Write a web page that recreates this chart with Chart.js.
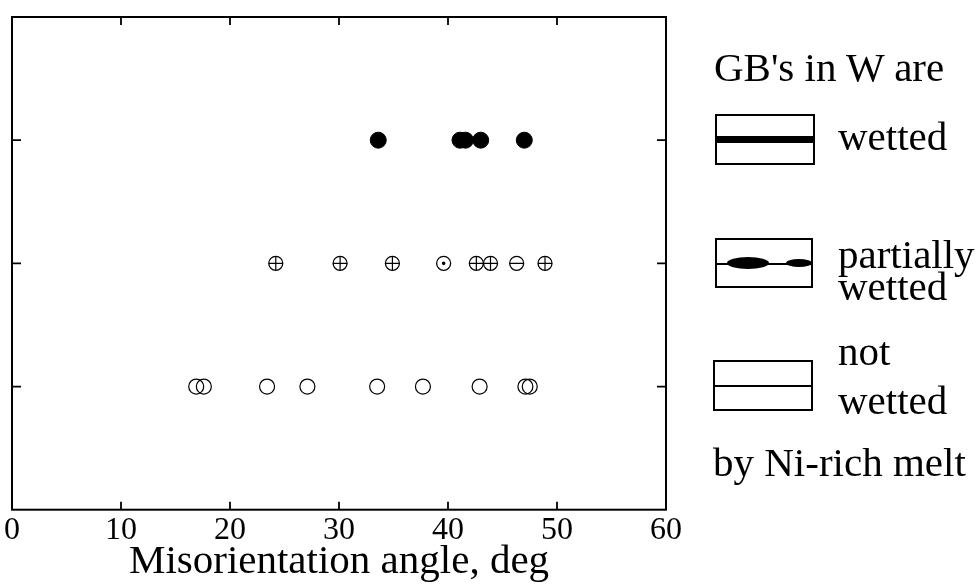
<!DOCTYPE html>
<html>
<head>
<meta charset="utf-8">
<script src="https://cdn.jsdelivr.net/npm/chart.js@4/dist/chart.umd.min.js"></script>
<style>
  html, body { margin: 0; padding: 0; background: #fff; }
  #wrap { position: relative; width: 980px; height: 586px; }
  #c { position: absolute; left: 0; top: 0; }
  .t { position: absolute; font-family: 'Liberation Serif', 'Times New Roman', serif; font-size: 41px; line-height: 41px; color: #000; white-space: nowrap; }
  .box { position: absolute; border: 2px solid #000; box-sizing: border-box; background: #fff; }
  .ln { position: absolute; left: 0; right: 0; background: #000; }
  .el { position: absolute; background: #000; border-radius: 50%; }
</style>
</head>
<body>
<div id="wrap">
  <canvas id="c" width="980" height="586"></canvas>
  <div class="t" style="left:714px; top:47px;">GB's in W are</div>
  <div class="box" style="left:715px; top:114px; width:100px; height:51px;">
    <div class="ln" style="top:20px; height:7px;"></div>
  </div>
  <div class="t" style="left:838px; top:116px;">wetted</div>
  <div class="box" style="left:715px; top:238px; width:98px; height:50px;">
    <div class="ln" style="top:23px; height:1.5px;"></div>
    <div class="el" style="left:10px; top:17px; width:42px; height:12px;"></div>
    <div class="el" style="left:69px; top:19px; width:26px; height:8px;"></div>
  </div>
  <div class="t" style="left:838px; top:234px;">partially</div>
  <div class="t" style="left:838px; top:266px;">wetted</div>
  <div class="box" style="left:713px; top:360px; width:100px; height:51px;">
    <div class="ln" style="top:23px; height:1.5px;"></div>
  </div>
  <div class="t" style="left:838px; top:331px;">not</div>
  <div class="t" style="left:838px; top:380px;">wetted</div>
  <div class="t" style="left:713px; top:442px;">by Ni-rich melt</div>
</div>
<script>
// ---- data ----
const xTickValues = [0, 10, 20, 30, 40, 50, 60];
const rowTickValues = [1, 2, 3];
const wettedRow = 3;
const partialRow = 2;
const notWettedRow = 1;
const wettedAngles = [33.6, 41.1, 41.6, 43.0, 47.0];
const partialAngles = [24.2, 30.1, 34.9, 39.6, 42.6, 43.9, 46.3, 48.9];
const partialMarks = ['cross', 'cross', 'cross', 'dot', 'cross', 'cross', 'line', 'cross'];
const notWettedAngles = [16.9, 17.6, 23.4, 27.1, 33.5, 37.7, 42.9, 47.1, 47.5];
const xAxisTitle = 'Misorientation angle, deg';

const toPts = (arr, row) => arr.map(v => ({ x: v, y: row }));

const frame = {
  id: 'frame',
  afterDatasetsDraw(chart) {
    const { ctx, chartArea: a, scales } = chart;
    ctx.save();
    ctx.strokeStyle = '#000';
    ctx.lineWidth = 2;
    ctx.strokeRect(a.left, a.top, a.right - a.left, a.bottom - a.top);
    ctx.lineWidth = 1.8;
    ctx.beginPath();
    xTickValues.slice(1, -1).forEach(v => {
      const px = scales.x.getPixelForValue(v);
      ctx.moveTo(px, a.bottom); ctx.lineTo(px, a.bottom - 8);
      ctx.moveTo(px, a.top); ctx.lineTo(px, a.top + 8);
    });
    rowTickValues.forEach(v => {
      const py = scales.y.getPixelForValue(v);
      ctx.moveTo(a.left, py); ctx.lineTo(a.left + 9, py);
      ctx.moveTo(a.right, py); ctx.lineTo(a.right - 9, py);
    });
    ctx.stroke();
    ctx.restore();
  }
};

new Chart(document.getElementById('c'), {
  type: 'scatter',
  data: {
    datasets: [
      {
        label: 'wetted',
        data: toPts(wettedAngles, wettedRow),
        pointStyle: 'circle',
        pointRadius: 8,
        backgroundColor: '#000',
        borderColor: '#000',
        borderWidth: 1
      },
      {
        label: 'partially wetted',
        data: toPts(partialAngles, partialRow),
        pointStyle: 'circle',
        pointRadius: 7,
        backgroundColor: 'rgba(0,0,0,0)',
        borderColor: '#000',
        borderWidth: 1.3
      },
      {
        label: 'partially wetted (inner mark)',
        data: toPts(partialAngles, partialRow),
        pointStyle: partialMarks.map(m => m === 'dot' ? 'circle' : m),
        pointRadius: partialMarks.map(m => m === 'dot' ? 1.2 : 7),
        backgroundColor: '#000',
        borderColor: '#000',
        borderWidth: 1.2
      },
      {
        label: 'not wetted',
        data: toPts(notWettedAngles, notWettedRow),
        pointStyle: 'circle',
        pointRadius: 7.5,
        backgroundColor: 'rgba(0,0,0,0)',
        borderColor: '#000',
        borderWidth: 1.2
      }
    ]
  },
  options: {
    responsive: false,
    animation: false,
    events: [],
    layout: { padding: { left: 12, right: 314, top: 17, bottom: 0 } },
    plugins: { legend: { display: false }, tooltip: { enabled: false } },
    scales: {
      x: {
        type: 'linear',
        min: 0, max: 60,
        afterBuildTicks: s => { s.ticks = xTickValues.map(v => ({ value: v })); },
        afterFit: s => { s.paddingLeft = 0; s.paddingRight = 0; },
        grid: { display: false, drawTicks: false },
        border: { display: false },
        ticks: {
          color: '#000',
          padding: 6,
          maxRotation: 0,
          font: { family: "'Liberation Serif', serif", size: 32, lineHeight: 0.9 }
        },
        title: {
          display: true,
          text: xAxisTitle,
          color: '#000',
          padding: { top: 1, bottom: 14 },
          font: { family: "'Liberation Serif', serif", size: 41, lineHeight: 0.5 }
        }
      },
      y: {
        type: 'linear',
        display: false,
        min: 0, max: 4
      }
    }
  },
  plugins: [frame]
});
</script>
</body>
</html>
